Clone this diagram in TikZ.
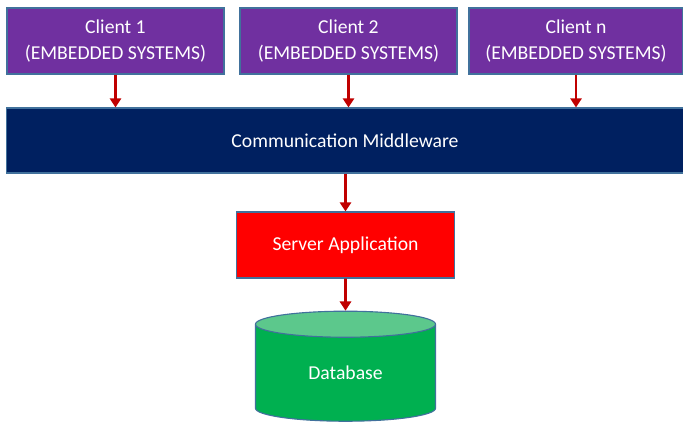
\documentclass[tikz,border=0pt]{standalone}
\usepackage{fontspec}
\setmainfont{Carlito}
\usetikzlibrary{shapes, arrows.meta}

\definecolor{clientpurple}{HTML}{7030A0}
\definecolor{middlenavy}{HTML}{002060}
\definecolor{serverred}{HTML}{FF0000}
\definecolor{dbgreen}{HTML}{00B050}
\definecolor{dbtop}{HTML}{5CC88C}
\definecolor{boxline}{HTML}{41719C}
\definecolor{arrowred}{HTML}{C00000}

\begin{document}
\begin{tikzpicture}[x=0.025cm, y=-0.025cm,
box_style/.style={rectangle, draw=boxline, line width=0.8pt, text=white, align=center, inner sep=0pt, font=\fontsize{14}{18}\selectfont},
client_box/.style={box_style, fill=clientpurple, minimum height=1.65cm},
db_style/.style={cylinder, shape border rotate=90, draw=boxline, line width=0.8pt, aspect=0.35, cylinder uses custom fill, cylinder body fill=dbgreen, cylinder end fill=dbtop, text=white, minimum width=4.5cm, minimum height=2.75cm, inner sep=0pt, font=\fontsize{14}{18}\selectfont},
edge_style/.style={arrowred, line width=2pt, -{Triangle[length=6.5pt, width=8pt]}},
]

\useasboundingbox[fill=white] (0,0) rectangle (683,421);

	\node[client_box, minimum width=5.425cm] at (115.5,41) (client1) {Client 1\\(EMBEDDED SYSTEMS)};
	\node[client_box, minimum width=5.425cm] at (348.5,41) (client2) {Client 2\\(EMBEDDED SYSTEMS)};
	\node[client_box, minimum width=5.35cm] at (576,41) (clientn) {Client n\\(EMBEDDED SYSTEMS)};

	\node[box_style, fill=middlenavy, minimum width=16.9cm, minimum height=1.625cm] at (345,140.5) (middleware) {Communication Middleware};

	\node[box_style, fill=serverred, minimum width=5.45cm, minimum height=1.65cm] at (345.5,245) (server) {Server Application};

	\node[db_style] at (345.5,373) (database) {Database};

	\draw[edge_style] (client1.south) -- (client1.south |- middleware.north);
	\draw[edge_style] (client2.south) -- (client2.south |- middleware.north);
	\draw[edge_style] (clientn.south) -- (clientn.south |- middleware.north);

	\draw[edge_style] (server.north |- middleware.south) -- (server.north);
	\draw[edge_style] (server.south) -- (database.north);

\end{tikzpicture}
\end{document}
